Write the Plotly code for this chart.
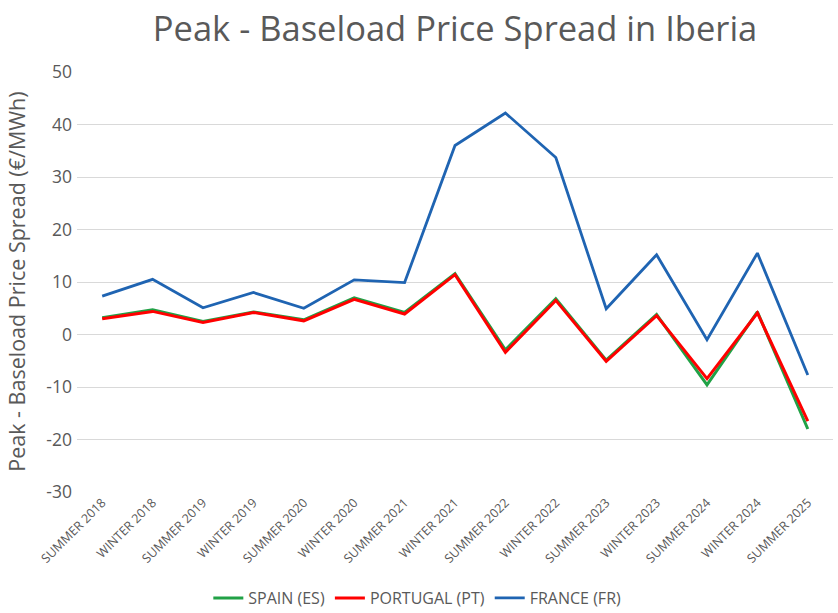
import plotly.graph_objects as go

categories = ["SUMMER 2018", "WINTER 2018", "SUMMER 2019", "WINTER 2019", "SUMMER 2020",
              "WINTER 2020", "SUMMER 2021", "WINTER 2021", "SUMMER 2022", "WINTER 2022",
              "SUMMER 2023", "WINTER 2023", "SUMMER 2024", "WINTER 2024", "SUMMER 2025"]
spain = [3.2, 4.7, 2.5, 4.3, 2.8, 7.0, 4.2, 11.6, -2.9, 6.8, -4.9, 3.8, -9.6, 4.3, -18.0]
portugal = [3.0, 4.4, 2.3, 4.2, 2.6, 6.7, 3.9, 11.4, -3.4, 6.5, -5.1, 3.6, -8.4, 4.1, -16.5]
france = [7.3, 10.5, 5.1, 8.0, 5.0, 10.4, 9.9, 36.0, 42.2, 33.7, 4.9, 15.2, -1.0, 15.5, -7.7]
y_tickvals = [-30, -20, -10, 0, 10, 20, 30, 40, 50]
y_ticktext = ["-30", "-20", "-10", "0", "10", "20", "30", "40", "50"]

FONT = "Open Sans"
GREY = "#595959"

fig = go.Figure()
fig.add_trace(go.Scatter(x=categories, y=spain, mode="lines", name="SPAIN (ES)",
                         line=dict(color="#21a146", width=3)))
fig.add_trace(go.Scatter(x=categories, y=portugal, mode="lines", name="PORTUGAL (PT)",
                         line=dict(color="#ff0000", width=3)))
fig.add_trace(go.Scatter(x=categories, y=france, mode="lines", name="FRANCE (FR)",
                         line=dict(color="#1f64b2", width=2.8)))

fig.update_layout(
    width=838, height=613,
    paper_bgcolor="white", plot_bgcolor="white",
    margin=dict(l=77, r=5, t=72, b=121),
    font=dict(family=FONT, color=GREY),
    title=dict(text="Peak - Baseload Price Spread in Iberia", x=0.543, xanchor="center",
               xref="container", y=0.952, yanchor="middle",
               font=dict(size=34.5, color=GREY, family=FONT)),
    xaxis=dict(type="category", range=[-0.5, 14.5], tickangle=-45,
               tickfont=dict(size=12.5, color=GREY), showgrid=False, showline=False,
               ticks="", automargin=False),
    yaxis=dict(range=[-30, 50], tickvals=y_tickvals, ticktext=y_ticktext,
               showgrid=True, gridcolor="#d9d9d9", gridwidth=1.2,
               zeroline=True, zerolinecolor="#d9d9d9", zerolinewidth=1.2,
               tickfont=dict(size=17.5, color=GREY), ticks="", ticklen=0,
               ticklabelstandoff=4, automargin=False),
    annotations=[dict(text="Peak - Baseload Price Spread (€/MWh)", textangle=-90,
                      xref="paper", yref="paper", x=-0.081, y=0.5,
                      xanchor="center", yanchor="middle", showarrow=False,
                      font=dict(size=21.5, color=GREY, family=FONT))],
    legend=dict(orientation="h", xref="container", yref="container",
                x=0.498, xanchor="center", y=0.0245, yanchor="middle",
                font=dict(size=16, color=GREY), itemwidth=30, tracegroupgap=0),
    showlegend=True,
)

fig.write_html("out.html", post_script="document.body.style.margin='0';",
               config={"displayModeBar": False})
